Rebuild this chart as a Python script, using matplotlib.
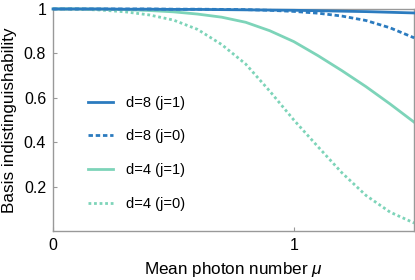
import matplotlib
matplotlib.use("Agg")
import matplotlib.pyplot as plt
from matplotlib.ticker import FuncFormatter

plt.rcParams['font.family'] = ['Liberation Sans', 'DejaVu Sans']
plt.rcParams['mathtext.fontset'] = 'custom'
plt.rcParams['mathtext.it'] = 'Liberation Sans:italic'

mu = [0.0, 0.1, 0.2, 0.3, 0.4, 0.5, 0.6, 0.7, 0.8, 0.9, 1.0, 1.1, 1.2, 1.3, 1.4, 1.5]
d8_j1 = [1.0, 1.0, 1.0, 0.999, 0.999, 0.998, 0.998, 0.997, 0.996, 0.995, 0.994, 0.992, 0.990, 0.988, 0.985, 0.982]
d8_j0 = [1.0, 1.0, 1.0, 1.0, 1.0, 0.999, 0.999, 0.998, 0.997, 0.994, 0.989, 0.981, 0.968, 0.948, 0.915, 0.87]
d4_j1 = [1.0, 1.0, 0.999, 0.997, 0.993, 0.987, 0.977, 0.963, 0.94, 0.902, 0.853, 0.79, 0.722, 0.65, 0.572, 0.49]
d4_j0 = [1.0, 0.999, 0.995, 0.987, 0.973, 0.95, 0.908, 0.84, 0.752, 0.63, 0.50, 0.38, 0.262, 0.16, 0.085, 0.036]

labels = ["d=8 (j=1)", "d=8 (j=0)", "d=4 (j=1)", "d=4 (j=0)"]
xticks = [0, 1]
yticks = [0.2, 0.4, 0.6, 0.8, 1.0]

blue = "#2b7bbf"
teal = "#7dd4b9"

fig = plt.figure(figsize=(4.15, 2.8), dpi=100)
ax = fig.add_axes([0.128, 0.175, 0.870, 0.793])

lw = 2.0
ax.plot(mu, d4_j0, color=teal, lw=lw, linestyle=(0, (1, 1)), label=labels[3], clip_on=False, zorder=2)
ax.plot(mu, d4_j1, color=teal, lw=lw, linestyle='-', label=labels[2], clip_on=False, zorder=2)
ax.plot(mu, d8_j0, color=blue, lw=lw, linestyle=(0, (1.6, 1.0)), label=labels[1], clip_on=False, zorder=3)
ax.plot(mu, d8_j1, color=blue, lw=lw, linestyle='-', label=labels[0], clip_on=False, zorder=3)

ax.set_xlim(0, 1.5)
ax.set_ylim(0, 1)
ax.set_xticks(xticks)
ax.set_yticks(yticks)
ax.yaxis.set_major_formatter(FuncFormatter(lambda v, p: ('%g' % v)))
ax.tick_params(direction='in', length=3, width=0.8, color='#999999', labelsize=11.5, pad=5)

for s in ax.spines.values():
    s.set_color('#999999')
    s.set_linewidth(1.0)

ax.set_xlabel(r"Mean photon number $\mu$", fontsize=12.3, labelpad=5)
ax.set_ylabel("Basis indistinguishability", fontsize=12.3, labelpad=5)

handles, labs = ax.get_legend_handles_labels()
order = [3, 2, 1, 0]
ax.legend([handles[i] for i in order], [labs[i] for i in order],
          loc='center left', bbox_to_anchor=(0.06, 0.35), frameon=False,
          fontsize=10.5, handlelength=1.7, handletextpad=0.9, labelspacing=1.35)

fig.savefig("out.png", dpi=100)
